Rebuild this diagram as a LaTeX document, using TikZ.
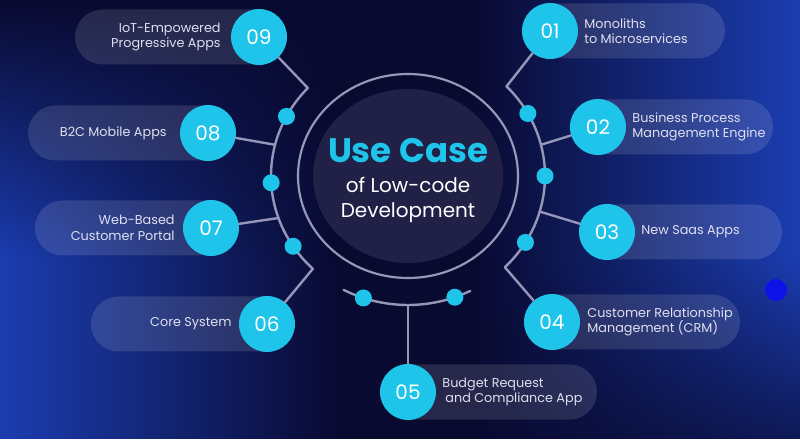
\documentclass[tikz,border=0pt]{standalone}
\usepackage{fontspec}
\setmainfont{Poppins}
\usetikzlibrary{positioning,fadings}

\definecolor{bgdark}{RGB}{9,10,48}
\definecolor{bgblue}{RGB}{28,62,178}
\definecolor{numcyan}{RGB}{30,196,234}
\definecolor{wirecol}{RGB}{150,150,184}
\definecolor{disccol}{RGB}{33,33,72}
\definecolor{lblcol}{RGB}{222,224,240}
\definecolor{spotblue}{RGB}{14,18,232}

\tikzset{
  num/.style={circle, fill=numcyan, minimum size=56pt, inner sep=0pt, text=white, font=\fontsize{20}{22}\selectfont},
  pill/.style={fill=white, fill opacity=0.12, rounded corners=27.5pt},
  lbl/.style={text=lblcol, font=\fontsize{12.8}{15.5}\selectfont, inner sep=0pt},
  wire/.style={draw=wirecol, line width=2.4pt, line cap=round},
  knob/.style={circle, fill=numcyan, minimum size=17pt, inner sep=0pt},
}

\begin{document}
\begin{tikzpicture}[x=1pt, y=1pt]
  \useasboundingbox (0,0) rectangle (800,439);
  % background
  \fill[bgdark] (0,0) rectangle (800,439);
  \fill[bgblue, path fading=east] (0,0) rectangle (340,439);
  \fill[bgdark, path fading=south] (0,180) rectangle (340,439);
  \fill[bgblue, path fading=west] (470,0) rectangle (800,439);
  \fill[bgdark, path fading=north, opacity=0.7] (470,0) rectangle (800,180);
  \fill[spotblue] (776,149) circle (11pt);

  \coordinate (C) at (408,263);

  % pills
  \fill[pill] (75,374.5) rectangle (287,429.5);
  \fill[pill] (28,278.5) rectangle (236,333.5);
  \fill[pill] (35,183.5) rectangle (239,238.5);
  \fill[pill] (91,87.5) rectangle (295,142.5);
  \fill[pill] (522,380.5) rectangle (725,435.5);
  \fill[pill] (570,284.5) rectangle (773,339.5);
  \fill[pill] (579,179.5) rectangle (782,234.5);
  \fill[pill] (524,89.5) rectangle (740,144.5);
  \fill[pill] (380,19.5) rectangle (597,74.5);

  % centre
  \fill[disccol] (C) ellipse [x radius=95pt, y radius=87pt];
  \draw[wire, line width=2.2pt] (C) ellipse [x radius=110pt, y radius=102pt];
  \node[font=\fontsize{34}{36}\selectfont\bfseries, text=numcyan] (title) at (408,288) {Use Case};
  \node[font=\fontsize{20}{25}\selectfont, text=white, align=center] (sub) at (408,239.5) {of Low-code\\Development};

  % outer arcs
  \coordinate (k9) at ([shift={(137:137 and 129)}]C);
  \coordinate (k8) at ([shift={(166:137 and 129)}]C);
  \coordinate (k7) at ([shift={(199:137 and 129)}]C);
  \coordinate (k6) at ([shift={(226:137 and 129)}]C);
  \coordinate (k1) at ([shift={(44:137 and 129)}]C);
  \coordinate (k2) at ([shift={(14:137 and 129)}]C);
  \coordinate (k3) at ([shift={(-16:137 and 129)}]C);
  \coordinate (k4) at ([shift={(-45:137 and 129)}]C);
  \coordinate (k5) at ([shift={(270:137 and 129)}]C);
  \coordinate (b1) at ([shift={(242:137 and 129)}]C);
  \draw[wire] (k9) arc[start angle=137, end angle=226, x radius=137pt, y radius=129pt];
  \draw[wire] (k1) arc[start angle=44, end angle=-45, x radius=137pt, y radius=129pt];
  \draw[wire] (b1) arc[start angle=242, end angle=297, x radius=137pt, y radius=129pt];

  % numbered circles
  \node[num] (c1) at (550,408) {01};
  \node[num] (c2) at (598,312) {02};
  \node[num] (c3) at (607,207) {03};
  \node[num] (c4) at (552,117) {04};
  \node[num] (c5) at (408,47) {05};
  \node[num] (c6) at (267,115) {06};
  \node[num] (c7) at (211,211) {07};
  \node[num] (c8) at (208,306) {08};
  \node[num] (c9) at (259,402) {09};

  % branches
  \draw[wire] (c1) -- (k1);
  \draw[wire] (c2) -- (k2);
  \draw[wire] (c3) -- (k3);
  \draw[wire] (c4) -- (k4);
  \draw[wire] (c5) -- (k5);
  \draw[wire] (c6) -- (k6);
  \draw[wire] (c7) -- (k7);
  \draw[wire] (c8) -- (k8);
  \draw[wire] (c9) -- (k9);

  % knobs on the arcs
  \node[knob] (d1) at ([shift={(29:137 and 129)}]C) {};
  \node[knob] (d2) at ([shift={(0:137 and 129)}]C) {};
  \node[knob] (d3) at ([shift={(-31:137 and 129)}]C) {};
  \node[knob] (d4) at ([shift={(290:137 and 129)}]C) {};
  \node[knob] (d5) at ([shift={(251:137 and 129)}]C) {};
  \node[knob] (d6) at ([shift={(213:137 and 129)}]C) {};
  \node[knob] (d7) at ([shift={(183:137 and 129)}]C) {};
  \node[knob] (d8) at ([shift={(152.5:137 and 129)}]C) {};

  % labels
  \node[lbl, align=left, right=6pt of c1] (t1) {Monoliths\\to Microservices};
  \node[lbl, align=left, right=6pt of c2] (t2) {Business Process\\Management Engine};
  \node[lbl, align=left, right=6pt of c3] (t3) {New Saas Apps};
  \node[lbl, align=left, right=7pt of c4] (t4) {Customer Relationship\\Management (CRM)};
  \node[lbl, align=left, right=6pt of c5] (t5) {Budget Request\\\hspace{3pt}and Compliance App};
  \node[lbl, align=right, left=7pt of c6] (t6) {Core System};
  \node[lbl, align=right, left=8pt of c7] (t7) {Web-Based\\Customer Portal};
  \node[lbl, align=right, left=13pt of c8] (t8) {B2C Mobile Apps};
  \node[lbl, align=right, left=10pt of c9] (t9) {IoT-Empowered\\Progressive Apps};
\end{tikzpicture}
\end{document}
